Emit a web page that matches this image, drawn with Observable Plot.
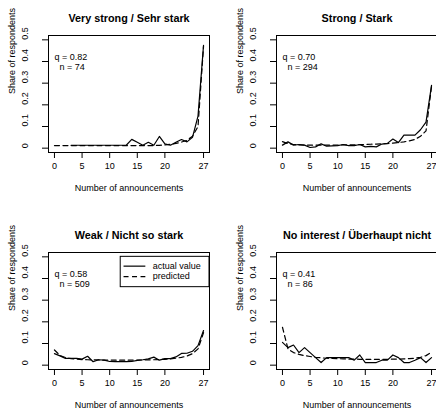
<!DOCTYPE html>
<html>
<head>
<meta charset="utf-8">
<script src="https://cdn.jsdelivr.net/npm/d3@7"></script>
<script src="https://cdn.jsdelivr.net/npm/@observablehq/plot@0.6"></script>
<style>
  html, body { margin: 0; padding: 0; background: #fff; }
  #wrap { position: relative; width: 436px; height: 411px; overflow: hidden; background: #fff; }
  .panel { position: absolute; width: 227px; height: 217px; }
  .panel svg { max-width: none !important; display: block; }
</style>
</head>
<body>
<div id="wrap"></div>
<script>
// ---- data ----
const announcements = [0,1,2,3,4,5,6,7,8,9,10,11,12,13,14,15,16,17,18,19,20,21,22,23,24,25,26,27];
const xTickValues = [0, 5, 10, 15, 20, 27];
const yTickValues = [0, 0.1, 0.2, 0.3, 0.4, 0.5];

const titles = ["Very strong / Sehr stark", "Strong / Stark", "Weak / Nicht so stark", "No interest / Überhaupt nicht"];
const qValues = ["0.82", "0.70", "0.58", "0.41"];
const nValues = [74, 294, 509, 86];

const actualVeryStrong = [null, null, null, 0.0135, 0.0135, 0.0135, 0.0135, 0.0135, 0.0135, 0.0135, 0.0135, 0.0135, 0.0135, 0.0135,
  0.0405, 0.027, 0.0135, 0.027, 0.0135, 0.054, 0.02, 0.0135, 0.027, 0.04, 0.029, 0.05, 0.148, 0.475];
const predVeryStrong = [0.012, 0.012, 0.012, 0.012, 0.012, 0.012, 0.012, 0.012, 0.012, 0.012, 0.012, 0.012, 0.012, 0.012,
  0.012, 0.012, 0.012, 0.012, 0.012, 0.013, 0.015, 0.018, 0.022, 0.028, 0.036, 0.055, 0.1, 0.47];

const actualStrong = [0.014, 0.029, 0.014, 0.017, 0.014, 0.003, 0.006, 0.02, 0.009, 0.011, 0.012, 0.017, 0.012, 0.012,
  0.017, 0.006, 0.008, 0.006, 0.019, 0.022, 0.042, 0.026, 0.06, 0.06, 0.06, 0.085, 0.12, 0.29];
const predStrong = [0.03, 0.021, 0.017, 0.015, 0.014, 0.014, 0.014, 0.014, 0.014, 0.014, 0.014, 0.015, 0.015, 0.015,
  0.016, 0.017, 0.018, 0.019, 0.02, 0.021, 0.023, 0.026, 0.029, 0.034, 0.04, 0.055, 0.08, 0.285];

const actualWeak = [0.053, 0.043, 0.031, 0.031, 0.031, 0.028, 0.041, 0.016, 0.025, 0.023, 0.017, 0.016, 0.016, 0.016,
  0.017, 0.022, 0.025, 0.029, 0.037, 0.023, 0.03, 0.03, 0.038, 0.054, 0.055, 0.064, 0.09, 0.16];
const predWeak = [0.07, 0.045, 0.035, 0.03, 0.028, 0.026, 0.025, 0.024, 0.024, 0.023, 0.023, 0.023, 0.023, 0.023,
  0.023, 0.023, 0.024, 0.024, 0.025, 0.026, 0.027, 0.029, 0.032, 0.036, 0.042, 0.053, 0.075, 0.15];

const actualNone = [0.105, 0.081, 0.093, 0.058, 0.081, 0.058, 0.035, 0.012, 0.035, 0.035, 0.035, 0.035, 0.035, 0.023,
  0.047, 0.012, 0.012, 0.012, 0.023, 0.023, 0.047, 0.035, 0.012, 0.012, 0.023, 0.035, 0.012, 0.035];
const predNone = [0.175, 0.075, 0.058, 0.05, 0.044, 0.04, 0.036, 0.034, 0.032, 0.031, 0.03, 0.029, 0.028, 0.028,
  0.027, 0.027, 0.027, 0.027, 0.027, 0.027, 0.028, 0.028, 0.029, 0.03, 0.032, 0.036, 0.044, 0.06];

const legendLabels = ["actual value", "predicted"];

const actualSeries = [actualVeryStrong, actualStrong, actualWeak, actualNone];
const predSeries = [predVeryStrong, predStrong, predWeak, predNone];

// ---- drawing ----
const FONT = "'Liberation Sans', Arial, Helvetica, sans-serif";
const DASH = "5,3.5";
const wrap = document.getElementById("wrap");
const offsets = [[0, 0], [228, 0], [0, 217], [228, 217]];

function panel(i) {
  const rows = announcements.map((x, j) => ({x, actual: actualSeries[i][j], pred: predSeries[i][j]}));
  const marks = [
    Plot.frame({stroke: "black"}),
    Plot.axisX(xTickValues, {tickSize: 6, fill: "none", stroke: "black", label: null}),
    Plot.axisY(yTickValues, {tickSize: 6, fill: "none", stroke: "black", label: null}),
    Plot.text(xTickValues, {x: d => d, frameAnchor: "bottom", dy: 16, text: d => String(d), fontSize: 9, fill: "black"}),
    Plot.text(yTickValues, {y: d => d, frameAnchor: "left", dx: -23, rotate: -90, text: d => d === 0 ? "0" : d.toFixed(1), fontSize: 9, fill: "black"}),
    Plot.text(["Share of respondents"], {frameAnchor: "left", dx: -36, rotate: -90, fontSize: 9, fill: "black"}),
    Plot.text(["Number of announcements"], {frameAnchor: "bottom", dy: 38, fontSize: 9, fill: "black"}),
    Plot.text([titles[i]], {frameAnchor: "top", dy: -21, fontSize: 10.8, fontWeight: "bold", fill: "black"}),
    Plot.text([`q = ${qValues[i]}\n\u00a0\u00a0n = ${nValues[i]}`], {x: 0, y: 0.4, textAnchor: "start", lineHeight: 1.2, fontSize: 9, fill: "black"}),
    Plot.line(rows, {x: "x", y: "pred", stroke: "black", strokeWidth: 1.2, strokeDasharray: DASH}),
    Plot.line(rows.filter(d => d.actual != null), {x: "x", y: "actual", stroke: "black", strokeWidth: 1.2})
  ];
  if (i === 2) {
    const leg = legendLabels.map((label, k) => ({label, k}));
    marks.push(
      Plot.rect([0], {x1: 12.0, x2: 28.08, y1: 0.36, y2: 0.5, fill: "white", stroke: "black"}),
      Plot.ruleY(leg.filter(d => d.k === 0), {y: d => 0.457 - d.k * 0.048, x1: 12.6, x2: 16.55, stroke: "black", strokeWidth: 1.2}),
      Plot.ruleY(leg.filter(d => d.k === 1), {y: d => 0.457 - d.k * 0.048, x1: 12.6, x2: 16.55, stroke: "black", strokeWidth: 1.2, strokeDasharray: DASH}),
      Plot.text(leg, {y: d => 0.457 - d.k * 0.048, x: 17.8, text: "label", textAnchor: "start", fontSize: 9, fill: "black"})
    );
  }
  const svg = Plot.plot({
    width: 227, height: 217,
    marginLeft: 48, marginRight: 18, marginTop: 35, marginBottom: 65,
    style: {fontFamily: FONT, fontSize: "9px", background: "white", color: "black", overflow: "visible", maxWidth: "none"},
    x: {domain: [-1.08, 28.08], axis: null},
    y: {domain: [-0.02, 0.52], axis: null},
    marks
  });
  const div = document.createElement("div");
  div.className = "panel";
  div.style.left = offsets[i][0] + "px";
  div.style.top = offsets[i][1] + "px";
  div.appendChild(svg);
  wrap.appendChild(div);
}
[0, 1, 2, 3].forEach(panel);
</script>
</body>
</html>
